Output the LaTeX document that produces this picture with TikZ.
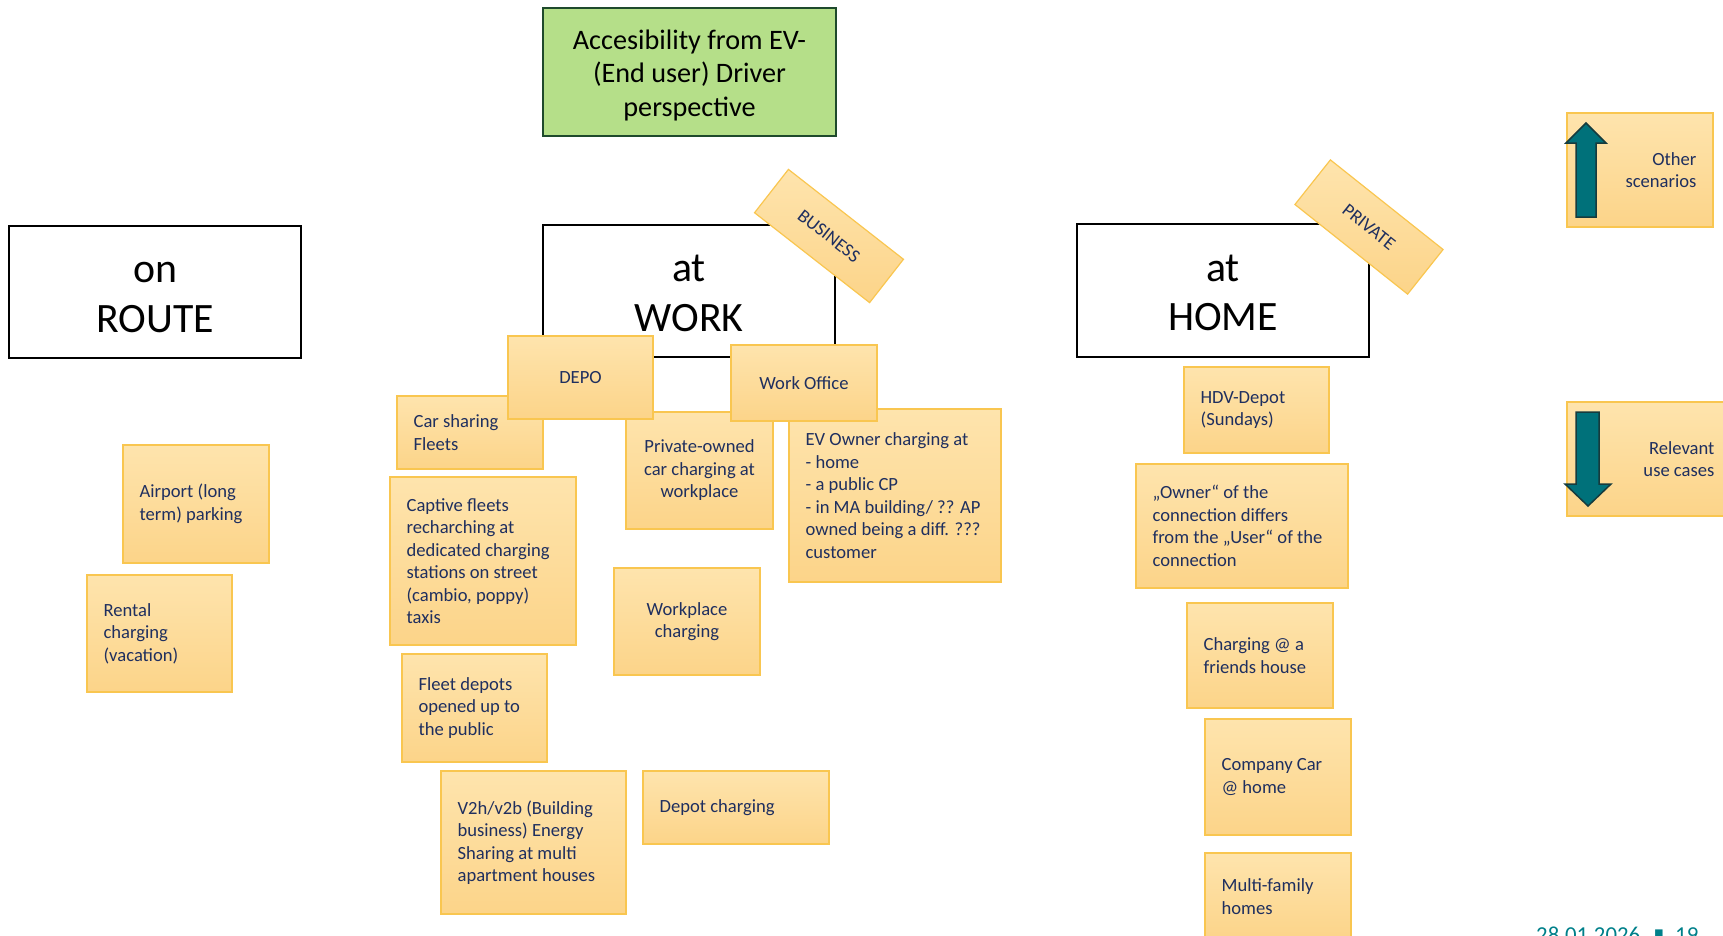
\documentclass[tikz,border=0pt]{standalone}
\usepackage{fontspec}
\setmainfont{Carlito}
\newfontfamily\symfont{DejaVu Sans}

\definecolor{notetop}{HTML}{FEE4AD}
\definecolor{notebot}{HTML}{FCD489}
\definecolor{noteedge}{HTML}{F9C650}
\definecolor{notetext}{HTML}{1F2F5F}
\definecolor{titlefill}{HTML}{B5DF89}
\definecolor{titleedge}{HTML}{1E4A2C}
\definecolor{arrowfill}{HTML}{00717A}
\definecolor{arrowedge}{HTML}{163B3D}
\definecolor{footer}{HTML}{00808A}

\tikzset{
  stickynote/.style={draw=noteedge, line width=1.2pt, top color=notetop,
    bottom color=notebot, inner sep=0pt},
  notetxt/.style={text=notetext, font=\fontsize{18.6}{22.5}\selectfont, inner sep=0pt},
  txt-west/.style={anchor=west, align=left, xshift=17pt},
  txt-center/.style={anchor=center, align=center},
  txt-east/.style={anchor=east, align=right, xshift=-17pt},
  frame-big/.style={draw=black, line width=2.5pt, fill=white, inner sep=0pt},
  frametxt-big/.style={align=center, inner sep=0pt, yshift=-5.5pt,
    font=\fontsize{41.8}{49.5}\selectfont},
  frame-bighi/.style={frame-big},
  frametxt-bighi/.style={frametxt-big, yshift=3pt},
  frame-title/.style={draw=titleedge, line width=2.5pt, fill=titlefill, inner sep=0pt},
  frametxt-title/.style={align=center, inner sep=0pt, yshift=-3.3pt,
    font=\fontsize{28.2}{33.5}\selectfont},
  tagnote/.style={stickynote, text=notetext, font=\fontsize{18.6}{22}\selectfont},
  blockarrow/.style={fill=arrowfill, draw=arrowedge, line width=1.5pt, line join=miter},
}

% \sticky{name}{left}{top}{right}{bottom}{west|center|east}{text}
\newcommand\sticky[7]{%
  \node[stickynote, minimum width={(#4)-(#2)}, minimum height={(#5)-(#3)}]
    (#1) at ({((#2)+(#4))/2},{((#3)+(#5))/2}) {};
  \node[notetxt, txt-#6] (#1-text) at (#1.#6) {#7};
}
% \bigframe{name}{left}{top}{right}{bottom}{kind}{text}
\newcommand\bigframe[7]{%
  \node[frame-#6, minimum width={(#4)-(#2)}, minimum height={(#5)-(#3)}]
    (#1) at ({((#2)+(#4))/2},{((#3)+(#5))/2}) {};
  \node[frametxt-#6] (#1-text) at (#1.center) {#7};
}

\begin{document}
\begin{tikzpicture}[x=1pt, y=-1pt]
\useasboundingbox (0,0) rectangle (1723,935);

% heading and the three scenario frames
\bigframe{title}{543}{8}{836}{136}{title}{Accesibility from EV-\\(End user) Driver\\perspective}
\bigframe{route}{9}{226}{301}{358}{big}{on\\ROUTE}
\bigframe{work}{543}{225}{835}{357}{bighi}{at\\WORK}
\bigframe{home}{1077}{224}{1369}{357}{bighi}{at\\HOME}

% tilted tags on the frames
\node[tagnote, minimum width=146, minimum height=55, rotate=-38] (business) at (829,236) {BUSINESS};
\node[tagnote, minimum width=144, minimum height=57, rotate=-38.5] (privatetag) at (1369,227) {PRIVATE};

% on route
\sticky{airport}{123}{445}{269}{563}{west}{Airport (long\\term) parking}
\sticky{rental}{87}{575}{232}{692}{west}{Rental\\charging\\(vacation)}

% at work
\sticky{carshare}{397}{396}{543}{469}{west}{Car sharing\\Fleets}
\sticky{privowned}{626}{412}{773}{529}{center}{Private-owned\\car charging at\\workplace}
\sticky{evowner}{789}{409}{1001}{582}{west}{EV Owner charging at\\- home\\- a public CP\\- in MA building/ ?? AP\\owned being a diff. ???\\customer}
\sticky{depo}{508}{336}{653}{419}{center}{DEPO}
\sticky{workoffice}{731}{345}{877}{421}{center}{Work Office}
\sticky{captive}{390}{477}{576}{645}{west}{Captive fleets\\recharching at\\dedicated charging\\stations on street\\(cambio, poppy)\\taxis}
\sticky{workplace}{614}{568}{760}{675}{center}{Workplace\\charging}
\sticky{fleetdepots}{402}{654}{547}{762}{west}{Fleet depots\\opened up to\\the public}
\sticky{vtoh}{441}{771}{626}{914}{west}{V2h/v2b (Building\\business) Energy\\Sharing at multi\\apartment houses}
\sticky{depotcharging}{643}{771}{829}{844}{west}{Depot charging}

% at home
\sticky{hdv}{1184}{367}{1329}{453}{west}{HDV-Depot\\(Sundays)}
\sticky{ownerconn}{1136}{464}{1348}{588}{west}{„Owner“ of the\\connection differs\\from the „User“ of the\\connection}
\sticky{friends}{1187}{603}{1333}{708}{west}{Charging @ a\\friends house}
\sticky{companycar}{1205}{719}{1351}{835}{west}{Company Car\\@ home}
\sticky{multifamily}{1205}{853}{1351}{940}{west}{Multi-family\\homes}

% legend
\sticky{other}{1567}{113}{1713}{227}{east}{Other\\scenarios}
\sticky{relevant}{1567}{402}{1731}{516}{east}{Relevant\\use cases}
\draw[blockarrow] (1576,217) -- (1576,143) -- (1566,143) -- (1586,123) -- (1606,143)
  -- (1596,143) -- (1596,217) -- cycle;
\draw[blockarrow] (1576,412) -- (1599,412) -- (1599,484) -- (1611,484) -- (1588,506)
  -- (1565,484) -- (1576,484) -- cycle;

% footer
\node[anchor=base west, inner sep=0pt, text=footer, font=\fontsize{22.8}{26}\selectfont]
  (date) at (1536,942.5) {28.01.2026};
\node[inner sep=0pt, text=footer, font=\symfont\fontsize{15}{18}\selectfont]
  (sep) at (1659,934) {▪};
\node[anchor=base west, inner sep=0pt, text=footer, font=\fontsize{22.8}{26}\selectfont]
  (page) at (1675,942.5) {19};
\end{tikzpicture}
\end{document}
